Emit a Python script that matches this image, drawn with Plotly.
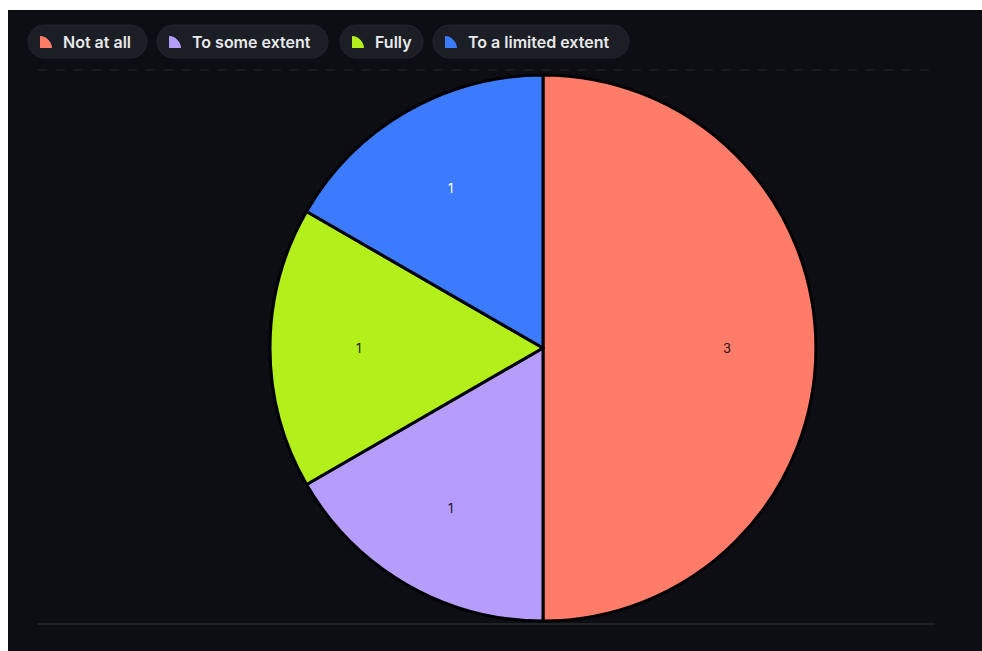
import math
import plotly.graph_objects as go

# Survey responses
categories = ["Not at all", "To some extent", "Fully", "To a limited extent"]
counts = [3, 1, 1, 1]
colors = ["#FF7C69", "#B69DFC", "#B2EF1B", "#3C7BFE"]
text_colors = ["#2a1410", "#1d1530", "#1a2605", "#ffffff"]

W, H = 982, 651
BG = "#0c0e13"


def px(x):
    return x / W


def py(y):
    return 1 - y / H


# pie geometry in pixels
cx, cy, radius = 543, 348, 273

fig = go.Figure()

fig.add_trace(go.Pie(
    labels=categories,
    values=counts,
    marker=dict(colors=colors, line=dict(color="#000000", width=3)),
    sort=False,
    direction="clockwise",
    rotation=0,
    textinfo="none",
    domain=dict(x=[px(cx - radius), px(cx + radius)], y=[py(cy + radius), py(cy - radius)]),
    showlegend=False,
    hoverinfo="label+value",
))

annotations = []

# value labels placed at each slice's mid-angle
total = sum(counts)
start = 0.0
for value, tcol in zip(counts, text_colors):
    mid = (start + value / 2) / total * 2 * math.pi  # clockwise from 12 o'clock
    start += value
    lx = cx + 0.675 * radius * math.sin(mid)
    ly = cy - 0.675 * radius * math.cos(mid)
    annotations.append(dict(
        x=px(lx), y=py(ly), xref="paper", yref="paper", text=str(value), showarrow=False,
        xanchor="center", yanchor="middle",
        font=dict(family="Inter, sans-serif", size=13, color=tcol),
    ))

shapes = [
    # dark panel with a thin white margin at the top and left
    dict(type="rect", xref="paper", yref="paper", x0=px(8), x1=1.01, y0=-0.01, y1=py(10),
         fillcolor=BG, line=dict(width=0), layer="below"),
    # horizontal rules above and below the chart
    dict(type="line", xref="paper", yref="paper", x0=px(38), x1=px(935), y0=py(70), y1=py(70),
         line=dict(color="#23262c", width=1, dash="dash"), layer="below"),
    dict(type="line", xref="paper", yref="paper", x0=px(38), x1=px(935), y0=py(624), y1=py(624),
         line=dict(color="#1f2227", width=2), layer="below"),
]

# Legend pills laid out left to right
pill_left = [28, 157, 340, 433]
pill_width = [119, 171, 83, 196]
pill_top, pill_h = 25, 33
for name, color, left, width in zip(categories, colors, pill_left, pill_width):
    r = pill_h / 2
    x0, x1 = left, left + width
    y0, y1 = pill_top, pill_top + pill_h
    path = (f"M {px(x0 + r)},{py(y0)} L {px(x1 - r)},{py(y0)} "
            f"C {px(x1 - r + r * 0.55)},{py(y0)} {px(x1)},{py(y0 + r - r * 0.55)} {px(x1)},{py(y0 + r)} "
            f"C {px(x1)},{py(y1 - r + r * 0.55)} {px(x1 - r + r * 0.55)},{py(y1)} {px(x1 - r)},{py(y1)} "
            f"L {px(x0 + r)},{py(y1)} "
            f"C {px(x0 + r - r * 0.55)},{py(y1)} {px(x0)},{py(y1 - r + r * 0.55)} {px(x0)},{py(y0 + r)} "
            f"C {px(x0)},{py(y0 + r - r * 0.55)} {px(x0 + r - r * 0.55)},{py(y0)} {px(x0 + r)},{py(y0)} Z")
    shapes.append(dict(type="path", xref="paper", yref="paper", path=path,
                       fillcolor="#1b1e24", line=dict(color="#22252c", width=1)))
    # wedge-shaped swatch
    ix, iy, s = left + 12, pill_top + 23, 12
    wedge = (f"M {px(ix)},{py(iy)} L {px(ix)},{py(iy - s)} "
             f"C {px(ix + s * 0.55)},{py(iy - s)} {px(ix + s)},{py(iy - s * 0.45)} {px(ix + s)},{py(iy)} Z")
    shapes.append(dict(type="path", xref="paper", yref="paper", path=wedge,
                       fillcolor=color, line=dict(width=0)))
    annotations.append(dict(
        x=px(left + 33), y=py(pill_top + pill_h / 2), xref="paper", yref="paper",
        xanchor="left", yanchor="middle", text=name, showarrow=False,
        font=dict(family="Inter, sans-serif", size=16, weight=600, color="#e8e9ec"),
    ))

fig.update_layout(
    width=W, height=H,
    margin=dict(l=0, r=0, t=0, b=0),
    paper_bgcolor="#ffffff",
    plot_bgcolor=BG,
    shapes=shapes,
    annotations=annotations,
)

fig.write_html("out.html")
